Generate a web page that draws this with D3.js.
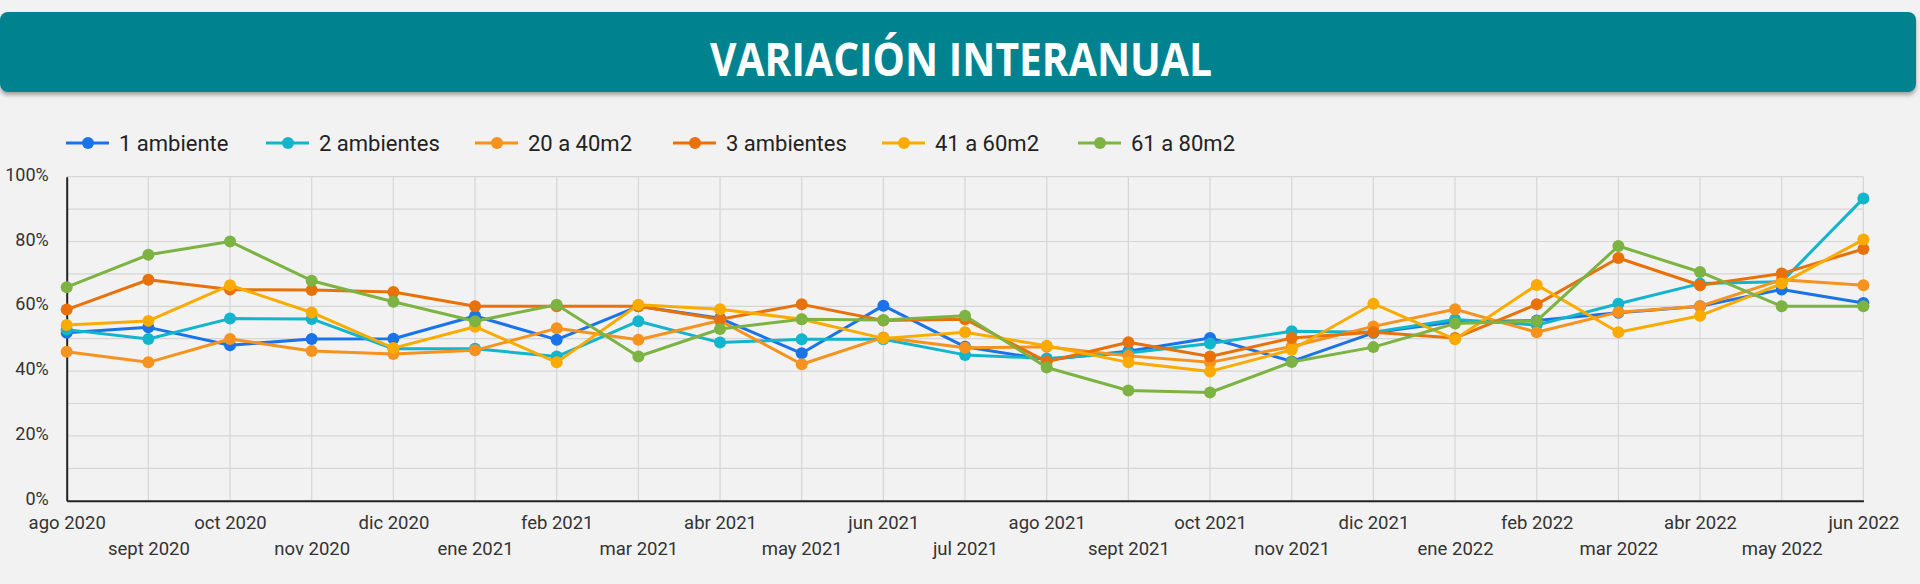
<!DOCTYPE html>
<html><head><meta charset="utf-8">
<script src="https://cdn.jsdelivr.net/npm/d3@7"></script>
<style>
html,body{margin:0;padding:0;background:#f2f2f2;}
svg{display:block;font-family:Roboto,"Noto Sans",sans-serif;}
</style></head>
<body><svg id="c" width="1920" height="584"></svg>
<script>
const months = ["ago 2020","sept 2020","oct 2020","nov 2020","dic 2020","ene 2021","feb 2021","mar 2021","abr 2021","may 2021","jun 2021","jul 2021","ago 2021","sept 2021","oct 2021","nov 2021","dic 2021","ene 2022","feb 2022","mar 2022","abr 2022","may 2022","jun 2022"];
const seriesNames = ["1 ambiente","2 ambientes","20 a 40m2","3 ambientes","41 a 60m2","61 a 80m2"];
const seriesColors = ["#1a73e8","#12b5cb","#f6921e","#e8710a","#f9ab00","#7cb342"];
const amb1  = [51.8,53.5,48.0,49.9,50.0,57.0,49.7,60.0,56.3,45.5,60.2,47.5,43.5,46.1,50.2,43.0,51.8,55.2,55.6,58.0,60.0,65.2,61.0];
const amb2  = [52.8,49.9,56.2,56.1,46.9,46.9,44.5,55.4,48.8,49.8,49.8,45.0,43.9,45.6,48.5,52.3,52.0,55.9,54.2,60.8,67.0,67.6,93.3];
const m20a40 = [46.0,42.7,49.9,46.2,45.3,46.4,53.2,49.7,55.6,42.1,50.4,47.2,47.5,44.7,42.7,47.6,53.8,59.1,52.0,58.2,60.0,68.2,66.5];
const amb3  = [59.0,68.2,65.2,65.0,64.4,60.0,60.0,60.0,56.0,60.6,55.6,56.0,42.9,48.9,44.5,50.2,52.0,50.2,60.6,74.9,66.5,70.1,77.7];
const m41a60 = [54.2,55.5,66.5,58.1,47.1,53.7,42.7,60.5,59.1,56.0,50.1,52.0,47.8,42.7,39.9,46.6,60.8,49.8,66.6,52.0,57.1,67.0,80.6];
const m61a80 = [65.9,75.9,80.0,67.9,61.4,55.4,60.5,44.5,53.0,56.0,55.8,57.1,41.1,34.0,33.4,42.8,47.4,54.7,55.5,78.6,70.6,60.0,60.0];
const yTicks = [0,20,40,60,80,100];
const titleText = "VARIACIÓN INTERANUAL";

const seriesValues = [amb1, amb2, m20a40, amb3, m41a60, m61a80];
const series = seriesNames.map((n,i)=>({name:n,color:seriesColors[i],values:seriesValues[i]}));

const svg = d3.select("#c");
const defs = svg.append("defs");
const f = defs.append("filter").attr("id","sh").attr("x","-5%").attr("y","-20%").attr("width","110%").attr("height","150%");
f.append("feDropShadow").attr("dx",0).attr("dy",3).attr("stdDeviation",2).attr("flood-color","#000").attr("flood-opacity",0.35);

// Title banner
svg.append("rect").attr("x",0).attr("y",12).attr("width",1916).attr("height",80).attr("rx",8)
  .attr("fill","#00838f").attr("filter","url(#sh)");
svg.append("text").attr("x",961).attr("y",76).attr("text-anchor","middle")
  .attr("font-family","'Open Sans',sans-serif").attr("font-weight",700).attr("font-size",46)
  .attr("textLength",502).attr("lengthAdjust","spacingAndGlyphs")
  .attr("fill","#fff").text(titleText);

// Scales
const x = d3.scalePoint().domain(months).range([66.7,1863.4]).padding(0);
const y = d3.scaleLinear().domain([0,100]).range([500.7,176.7]);

// Grid
const g = svg.append("g");
g.selectAll(".hg").data(d3.range(10,101,10)).join("line")
  .attr("x1",x.range()[0]).attr("x2",x.range()[1])
  .attr("y1",d=>y(d)).attr("y2",d=>y(d)).attr("stroke","#d6d6d6").attr("stroke-width",1.2);
g.selectAll(".vg").data(months.slice(1)).join("line")
  .attr("x1",d=>x(d)).attr("x2",d=>x(d)).attr("y1",y(0)).attr("y2",y(100))
  .attr("stroke","#d6d6d6").attr("stroke-width",1.2);

// Axes
const yAxis = d3.axisLeft(y).tickValues(yTicks).tickFormat(d=>d+"%").tickSize(0).tickPadding(18);
const ya = svg.append("g").attr("transform",`translate(${x.range()[0]},0)`).call(yAxis);
ya.select(".domain").attr("stroke","#222").attr("stroke-width",2);
ya.selectAll("text").attr("font-size",18).attr("fill","#333").attr("font-family","Roboto").attr("dy","0.2em");

const xAxis = d3.axisBottom(x).tickSize(0).tickPadding(0);
const xa = svg.append("g").attr("transform",`translate(0,${y(0)})`).call(xAxis);
xa.select(".domain").attr("stroke","#222").attr("stroke-width",2);
xa.selectAll("text").attr("font-size",18.5).attr("fill","#333").attr("font-family","Roboto")
  .attr("dy",null).attr("y",(d,i)=> i%2===0 ? 28 : 54);

// Lines
const line = d3.line().x((d,i)=>x(months[i])).y(d=>y(d));
const sg = svg.append("g");
series.forEach(s=>{
  const gg = sg.append("g");
  gg.append("path").attr("d",line(s.values)).attr("fill","none").attr("stroke",s.color).attr("stroke-width",3).attr("stroke-linejoin","round");
  gg.selectAll("circle").data(s.values).join("circle")
    .attr("cx",(d,i)=>x(months[i])).attr("cy",d=>y(d)).attr("r",6).attr("fill",s.color);
});

// Legend
const legX = [66,266,475,673,882,1078];
const lg = svg.append("g").attr("transform","translate(0,143)");
series.forEach((s,i)=>{
  const it = lg.append("g").attr("transform",`translate(${legX[i]},0)`);
  it.append("line").attr("x1",0).attr("x2",43).attr("y1",0).attr("y2",0).attr("stroke",s.color).attr("stroke-width",3);
  it.append("circle").attr("cx",22).attr("cy",0).attr("r",6).attr("fill",s.color);
  it.append("text").attr("x",53).attr("y",8).attr("font-size",22).attr("fill","#222").attr("font-family","Roboto").text(s.name);
});
</script></body></html>
